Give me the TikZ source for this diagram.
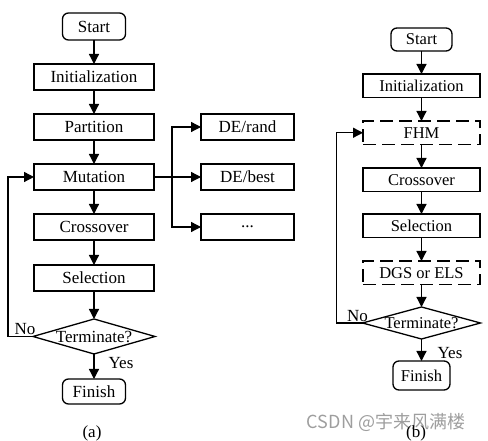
\documentclass[tikz,border=0pt]{standalone}
\usepackage{fontspec}
\setmainfont{Liberation Serif}
\newfontfamily\cjkfont{Noto Sans CJK SC}
\usetikzlibrary{positioning}
\usetikzlibrary{arrows.meta}
\usetikzlibrary{shapes.geometric}

\begin{document}
\begin{tikzpicture}[
            > = {Triangle[length=10pt, width=10pt]}, % filled arrow head
            line width = 1.3pt, % line style
            font = \fontsize{17}{20}\selectfont,
            x = 1pt, y = 1pt
        ]

        \tikzstyle{block}=[
            draw,
            rectangle,
            inner sep = 0pt,
            outer sep = 0pt,
            minimum width = 120pt,
            minimum height = 26pt
        ]
        \tikzstyle{blockb}=[block, minimum width = 117pt, minimum height = 23.5pt]
        \tikzstyle{dblock}=[blockb, dash pattern = on 13pt off 6pt]
        \tikzstyle{endpoint}=[block, rounded corners = 6pt, minimum width = 63pt]
        \tikzstyle{decision}=[draw, diamond, inner sep = 0pt, outer sep = 0pt, minimum width = 122pt, minimum height = 35pt]
        \tikzstyle{lbl}=[inner sep = 1pt]

        \useasboundingbox (0,0) rectangle (488,441);

	% FLOWCHART (a)
        \node[endpoint, minimum height = 27pt] (S) at (94,414.5) {Start};
        \node[block] (I) [below = 24pt of S] {Initialization};
        \node[block] (P) [below = 24pt of I] {Partition};
        \node[block] (M) [below = 24pt of P] {Mutation};
        \node[block] (C) [below = 24pt of M] {Crossover};
        \node[block] (Sel) [below = 25pt of C] {Selection};
        \node[decision] (T) [below = 28pt of Sel] {\makebox[0pt]{Terminate?}};
        \node[endpoint, minimum height = 25pt] (F) [below = 25pt of T] {Finish};

        \foreach \a/\b in {S/I, I/P, P/M, M/C, C/Sel, Sel/T}
            \draw[->] (\a) -- (\b);
        \draw[->] (T) -- node[lbl, pos = 0.36, right = 13pt] (Yes) {Yes} (F);
        \draw[->] (T.west) -- ++(-25,0) |- (M.west);
        \node[lbl, anchor = south east] (No) at ([xshift = 4pt]T.west) {No};

	% MUTATION STRATEGIES
        \node[block, minimum width = 93pt] (R) [right = 47pt of P] {DE/rand};
        \node[block, minimum width = 93pt] (B) [right = 47pt of M] {DE/best};
        \node[block, minimum width = 93pt] (D) [right = 47pt of C] {...};
        \coordinate[right = 18pt of M] (J);

        \draw (M) -- (J);
        \draw[->] (J) |- (R);
        \draw[->] (J) -- (B);
        \draw[->] (J) |- (D);

	% FLOWCHART (b)
        \begin{scope}[font = \fontsize{16.5}{19}\selectfont]
        \node[endpoint, minimum width = 61pt, minimum height = 23pt] (S2) at (421.5,401.5) {Start};
        \node[blockb] (I2) [below = 23pt of S2] {Initialization};
        \node[dblock] (H2) [below = 23.5pt of I2] {FHM};
        \node[blockb] (C2) [below = 23.5pt of H2] {Crossover};
        \node[blockb] (Sel2) [below = 22.5pt of C2] {Selection};
        \node[dblock] (G2) [below = 23.5pt of Sel2] {DGS or ELS};
        \node[decision, minimum width = 118pt, minimum height = 32pt] (T2) [below = 22.5pt of G2] {\makebox[0pt]{Terminate?}};
        \node[endpoint, minimum width = 57pt, minimum height = 29pt] (F2) [below = 22pt of T2] {Finish};
        \end{scope}

        \foreach \a/\b in {S2/I2, I2/H2, H2/C2, C2/Sel2, Sel2/G2, G2/T2}
            \draw[->] (\a) -- (\b);
        \draw[->] (T2) -- node[lbl, pos = 0.64, right = 14.5pt] (Yes2) {Yes} (F2);
        \draw[->] (T2.west) -- ++(-26,0) |- (H2.west);
        \node[lbl, anchor = south east] (No2) at ([xshift = 7pt]T2.west) {No};

	% CAPTIONS
        \node[text = black!38, font = \cjkfont\fontsize{18}{21}\selectfont] (WM) at (386,18) {CSDN @宇来风满楼};
        \node (CA) at (92,8) {(a)};
        \node (CB) at (416,8) {(b)};

\end{tikzpicture}
\end{document}
